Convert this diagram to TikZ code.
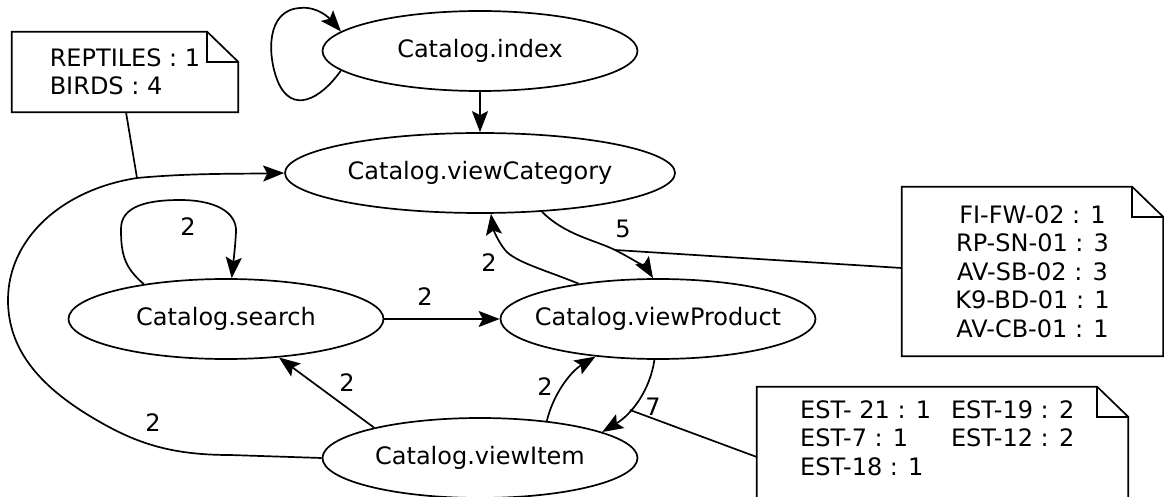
\documentclass[tikz,border=0pt]{standalone}
\usepackage{fontspec}
\setmainfont{DejaVu Sans}
\usetikzlibrary{arrows.meta,shapes.geometric}

\tikzset{
  state/.style={ellipse, draw, line width=1.7pt, inner sep=0pt,
    minimum height=80pt},
  trans/.style={line width=1.7pt, -{Stealth[length=21pt,width=16pt,inset=4pt]}},
  link/.style={line width=1.7pt},
  lbl/.style={inner sep=0pt},
  notebox/.style={rectangle, inner sep=0pt},
}

% state name without width, so the ellipse size comes from the style alone
\newcommand{\stname}[1]{\makebox[0pt]{#1}}

% outline of a note with its upper right corner folded down
\newcommand{\notefold}[1]{%
  \draw[line width=1.7pt, line join=miter]
    (#1.south west) -- (#1.north west) -- ([xshift=-31pt]#1.north east)
    -- ([yshift=-30pt]#1.north east) -- (#1.south east) -- cycle;
  \draw[line width=1.7pt]
    ([xshift=-31pt]#1.north east) |- ([yshift=-30pt]#1.north east);
}

\begin{document}
\begin{tikzpicture}[x=1pt, y=-1pt,
  every node/.style={font=\fontsize{24}{28.5}\selectfont}]
\useasboundingbox (0,0) rectangle (1164,497);
\fill[white] (0,0) rectangle (1164,497);

% states
\node[state, minimum width=315pt] (ix) at (480,51) {\stname{Catalog.index}};
\node[state, minimum width=390pt] (vc) at (480,173) {\stname{Catalog.viewCategory}};
\node[state, minimum width=315pt] (s)  at (226,319) {\stname{Catalog.search}};
\node[state, minimum width=315pt] (vp) at (658,319) {\stname{Catalog.viewProduct}};
\node[state, minimum width=315pt] (vi) at (480,458) {\stname{Catalog.viewItem}};

% notes
\node[notebox, minimum width=226pt, minimum height=80pt, align=left]
  (n1) at (125,72) {REPTILES : 1\\BIRDS : 4};
\notefold{n1}
\node[notebox, minimum width=261pt, minimum height=169pt, align=center]
  (n2) at (1032.5,271.5) {FI-FW-02 : 1\\RP-SN-01 : 3\\AV-SB-02 : 3\\K9-BD-01 : 1\\AV-CB-01 : 1};
\notefold{n2}
\node[notebox, minimum width=371pt, minimum height=114pt]
  (n3) at (942.5,444) {};
\notefold{n3}
\node[lbl, anchor=west] (n3t) at (800,441) {%
  \begin{tabular}{@{}l@{\hspace{20pt}}l@{}}
  EST- 21 : 1 & EST-19 : 2\\
  EST-7 : 1 & EST-12 : 2\\
  EST-18 : 1 &
  \end{tabular}};

% transitions
\draw[trans] (ix.188.8) .. controls (320,100) and (292,114) .. (278,82)
  .. controls (267,55) and (266,10) .. (300,8)
  .. controls (318,6) and (330,19) .. (ix.172.2);
\draw[trans] (ix.south) -- (vc.north);

\draw[trans] (vi.west) -- (230,455) .. controls (175,455) and (140,445) .. (100,422)
  .. controls (40,388) and (8,350) .. (8,300)
  .. controls (8,240) and (60,190) .. (137,178) coordinate (c1)
  .. controls (190,173) and (240,174) .. (vc.west);
\node[lbl] (l1) at (153,423) {2};

\draw[trans] (s.157) .. controls (125,268) and (121,255) .. (121,230)
  .. controls (120,205) and (150,200) .. (180,200)
  .. controls (215,200) and (237,212) .. (236,232)
  .. controls (235,250) and (233,265) .. (s.82);
\node[lbl] (l2) at (188,227) {2};

\draw[trans] (s.east) -- (vp.west);
\node[lbl] (l3) at (425,297) {2};

\draw[trans] (vc.-32) .. controls (565,235) and (595,240) .. (615,250) coordinate (c2)
  .. controls (635,260) and (648,270) .. (vp.97);
\node[lbl] (l4) at (623,229) {5};

\draw[trans] (vp.156) .. controls (545,270) and (515,262) .. (505,250)
  .. controls (497,240) and (493,228) .. (vc.-75);
\node[lbl] (l5) at (489,263) {2};

\draw[trans] (vi.164.5) -- (s.-36);
\node[lbl] (l6) at (347,383) {2};

\draw[trans] (vi.29) .. controls (553,395) and (570,372) .. (vp.211);
\node[lbl] (l7) at (545,387) {2};

\draw[trans] (vp.265) .. controls (650,390) and (632,414) .. (vi.12);
\node[lbl] (l8) at (653,407) {7};
\coordinate (c3) at (630,410);

% note connectors
\draw[link] (n1.south -| 126,0) -- (c1);
\draw[link] (c2) -- (n2.west |- 0,268);
\draw[link] (c3) -- (n3.west |- 0,457);
\end{tikzpicture}
\end{document}
